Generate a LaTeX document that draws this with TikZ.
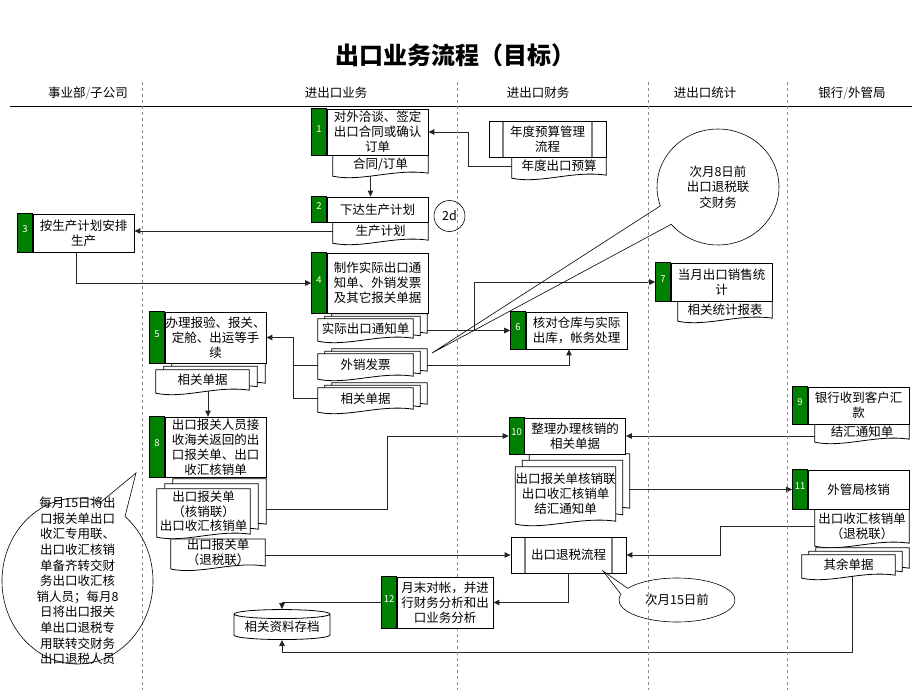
\documentclass[tikz,border=0pt]{standalone}
\usepackage{fontspec}
\setmainfont{Noto Sans CJK SC}
\usetikzlibrary{arrows.meta,calc,fit,shapes.geometric}

\definecolor{stepgreen}{RGB}{0,128,0}
\definecolor{lanegray}{RGB}{140,140,140}

\pgfdeclarelayer{wires}
\pgfdeclarelayer{papers}
\pgfsetlayers{wires,papers,main}

% document outline with wavy bottom, #2 = offset
\newcommand\docoutline[2]{%
  \draw[docline] ($(#1.north west)+(#2)$) -- ($(#1.north east)+(#2)$) -- ($(#1.south east)+(#2)$)
    .. controls ($(#1.south east)!.35!(#1.south west)+(#2)+(0,5pt)$)
    and ($(#1.south east)!.7!(#1.south west)+(#2)+(0,-9pt)$) .. ($(#1.south west)+(#2)+(0,-3pt)$) -- cycle;}
% three stacked documents
\newcommand\docstack[3]{%
  \docoutline{#1}{2*#2,2*#3}
  \docoutline{#1}{#2,#3}
  \docoutline{#1}{0pt,0pt}}

\begin{document}
\begin{tikzpicture}[x=1pt, y=-1pt, font=\fontsize{12.5}{15}\selectfont,
    stepbox/.style={draw, fill=white, line width=.8pt, align=center, inner sep=0pt, minimum width=101pt},
    stepnum/.style={draw, fill=stepgreen, line width=.8pt, text=white, inner sep=0pt, font=\fontsize{9.5}{10}\selectfont},
    docnode/.style={align=center, inner sep=0pt},
    docline/.style={draw, fill=white, line width=.8pt},
    subproc/.style={draw, fill=white, line width=.8pt, align=center, inner sep=0pt,
      path picture={\draw[gray, line width=1.3pt]
        ([xshift=14pt]path picture bounding box.north west) -- ([xshift=14pt]path picture bounding box.south west)
        ([xshift=-14pt]path picture bounding box.north east) -- ([xshift=-14pt]path picture bounding box.south east);}},
    store/.style={cylinder, shape border rotate=90, aspect=.12, draw, fill=white, line width=.8pt,
      minimum width=96pt, minimum height=30pt, inner sep=0pt},
    conn/.style={draw=black!85, line width=.9pt, -{Triangle[length=6pt,width=5.5pt]}},
    wire/.style={draw=black!85, line width=.9pt},
    bubble/.style={draw, line width=.6pt},
    lane/.style={draw=lanegray, dashed, line width=.6pt},
    colhead/.style={font=\fontsize{12.5}{15}\selectfont}]

  \useasboundingbox (0,0) rectangle (920,690);

  % title and lanes
  \node[font=\fontsize{24}{28}\selectfont\bfseries] (title) at (455,55) {出口业务流程（目标）};
  \node[colhead] (h1) at (88,93) {事业部\textcolor{lanegray}{/}子公司};
  \node[colhead] (h2) at (336,93) {进出口业务};
  \node[colhead] (h3) at (538,93) {进出口财务};
  \node[colhead] (h4) at (705,93) {进出口统计};
  \node[colhead] (h5) at (852,93) {银行\textcolor{lanegray}{/}外管局};
  \draw[line width=.8pt] (10,106) -- (912,106);
  \foreach \x in {142,457,648,787}
    \draw[lane] (\x,82) -- (\x,690);

  % process steps
  \node[stepbox, minimum height=46pt] (b1) at (377.5,132) {对外洽谈、签定\\出口合同或确认\\订单};
  \node[stepnum, fit={([xshift=-15pt]b1.north west) (b1.south west)}] (n1) {1};
  \node[stepbox, minimum height=25pt] (b2) at (377.5,209.5) {下达生产计划};
  \node[stepnum, fit={([xshift=-15pt]b2.north west) (b2.south west)}] (n2) {2};
  \node[stepbox, minimum height=38pt] (b3) at (83.5,233) {按生产计划安排\\生产};
  \node[stepnum, fit={([xshift=-15pt]b3.north west) (b3.south west)}] (n3) {3};
  \node[stepbox, minimum height=60pt] (b4) at (377.5,283) {制作实际出口通\\知单、外销发票\\及其它报关单据};
  \node[stepnum, fit={([xshift=-15pt]b4.north west) (b4.south west)}] (n4) {4};
  \node[stepbox, minimum height=51pt] (b5) at (215.5,337.5) {办理报验、报关、\\定舱、出运等手\\续};
  \node[stepnum, fit={([xshift=-15pt]b5.north west) (b5.south west)}] (n5) {5};
  \node[stepbox, minimum height=37pt] (b6) at (576.5,330.5) {核对仓库与实际\\出库，帐务处理};
  \node[stepnum, fit={([xshift=-15pt]b6.north west) (b6.south west)}] (n6) {6};
  \node[stepbox, minimum height=38pt] (b7) at (721.5,282) {当月出口销售统\\计};
  \node[stepnum, fit={([xshift=-15pt]b7.north west) (b7.south west)}] (n7) {7};
  \node[stepbox, minimum height=60pt] (b8) at (215.5,447) {出口报关人员接\\收海关返回的出\\口报关单、出口\\收汇核销单};
  \node[stepnum, fit={([xshift=-15pt]b8.north west) (b8.south west)}] (n8) {8};
  \node[stepbox, minimum height=37pt] (b9) at (858.5,405.5) {银行收到客户汇\\款};
  \node[stepnum, fit={([xshift=-15pt]b9.north west) (b9.south west)}] (n9) {9};
  \node[stepbox, minimum height=36pt] (b10) at (575,436) {整理办理核销的\\相关单据};
  \node[stepnum, fit={([xshift=-15pt]b10.north west) (b10.south west)}] (n10) {10};
  \node[stepbox, minimum height=39pt] (b11) at (858.5,489.5) {外管局核销};
  \node[stepnum, fit={([xshift=-15pt]b11.north west) (b11.south west)}] (n11) {11};
  \node[stepbox, minimum height=51pt, minimum width=96pt] (b12) at (445,602.5) {月末对帐，并进\\行财务分析和出\\口业务分析};
  \node[stepnum, fit={([xshift=-15pt]b12.north west) (b12.south west)}] (n12) {12};

  % sub processes, archive, marker
  \node[subproc, minimum width=117pt, minimum height=36pt] (pbud) at (547.5,139) {年度预算管理\\流程};
  \node[subproc, minimum width=115pt, minimum height=36pt] (p15) at (568.5,555) {出口退税流程};
  \node[store] (arch) at (282,627) {相关资料存档};
  \node[draw, circle, line width=.6pt, minimum size=31pt, inner sep=0pt] (c2d) at (449.5,216) {2d};

  % documents
  \node[docnode, minimum width=95pt, minimum height=18pt] (d1) at (380.5,164) {合同/订单};
  \node[docnode, minimum width=95pt, minimum height=18pt] (d2) at (380.5,231) {生产计划};
  \node[docnode, minimum width=94pt, minimum height=18pt] (dbud) at (559,166) {年度出口预算};
  \node[docnode, minimum width=94pt, minimum height=17pt] (d7) at (725,309.5) {相关统计报表};
  \node[docnode, minimum width=94pt, minimum height=15pt] (d9) at (862,431.5) {结汇通知单};
  \node[docnode, minimum width=94pt, minimum height=34pt] (d11) at (862,526) {出口收汇核销单\\（退税联）};
  \node[docnode, minimum width=94pt, minimum height=23pt] (d8r) at (218,552.5) {出口报关单\\（退税联）};
  \node[docnode, minimum width=95pt, minimum height=19pt] (s4a) at (365.5,328.5) {实际出口通知单};
  \node[docnode, minimum width=95pt, minimum height=22pt] (s4b) at (365.5,365) {外销发票};
  \node[docnode, minimum width=95pt, minimum height=21pt] (s4c) at (365.5,398.5) {相关单据};
  \node[docnode, minimum width=93pt, minimum height=20pt] (s5) at (202.5,380) {相关单据};
  \node[docnode, minimum width=93pt, minimum height=45pt, font=\fontsize{12.5}{14.5}\selectfont] (s8) at (203.5,511.5) {出口报关单\\（核销联）\\出口收汇核销单};
  \node[docnode, minimum width=95pt, minimum height=54pt] (s10) at (565.5,494) {出口报关单核销联\\出口收汇核销单\\结汇通知单};
  \node[docnode, minimum width=93pt, minimum height=20pt] (s11) at (848.5,565) {其余单据};

  \begin{pgfonlayer}{papers}
    \docoutline{d1}{0pt,0pt}
    \docoutline{d2}{0pt,0pt}
    \docoutline{dbud}{0pt,0pt}
    \docoutline{d7}{0pt,0pt}
    \docoutline{d9}{0pt,0pt}
    \docoutline{d11}{0pt,0pt}
    \docoutline{d8r}{0pt,0pt}
    \docstack{s4a}{7pt}{2.5pt}
    \docstack{s4b}{7pt}{2.5pt}
    \docstack{s4c}{7pt}{2.5pt}
    \docstack{s5}{8pt}{3.5pt}
    \docstack{s8}{8pt}{5pt}
    \docstack{s10}{7pt}{6.5pt}
    \docstack{s11}{7pt}{3.5pt}
  \end{pgfonlayer}

  % bends of the connectors
  \coordinate (j1) at (468,132);
  \coordinate (j5) at (293,337.5);
  \coordinate (j7) at (474,330.5);
  \coordinate (j10) at (387,436);
  \coordinate (j15) at (720,555);
  \coordinate (j0) at (282,652);

  \begin{pgfonlayer}{wires}
    \draw[conn] (dbud.west) -| (j1) -- (b1.east);
    \draw[conn] ([xshift=-10pt]d1.south) -- ([xshift=-10pt]d1.south |- b2.north);
    \draw[conn] (d2.west) -- (d2.west -| b3.east);
    \draw[conn] ([xshift=-7.5pt]b3.south) |- (n4.west);
    \draw[conn] (s4a.east |- n6.west) -- (n6.west);
    \draw[conn] (j7) |- (n7.west);
    \draw[conn] (s4b.east) -| ([xshift=-7.5pt]b6.south);
    \draw[conn] (s4b.west) -| (j5) -- (b5.east);
    \draw[wire] (s4c.west) -| (j5);
    \draw[conn] ([xshift=5.5pt]s5.south) -- ([xshift=-7.5pt]b8.north);
    \draw[conn] ([yshift=2pt]s8.east) -| (j10) -- (n10.west);
    \draw[conn] (d8r.east |- p15.west) -- (p15.west);
    \draw[conn] (d9.west |- b10.east) -- (b10.east);
    \draw[conn] (s10.east |- n11.west) -- (n11.west);
    \draw[conn] (d11.west) -| (j15) -- (p15.east);
    \draw[conn] (p15.south) |- (b12.east);
    \draw[conn] (n12.west) -| (arch.north);
    \draw[conn] ([xshift=3.5pt]s11.south) |- (j0) -- (arch.south);
  \end{pgfonlayer}

  % callouts
  \node[align=center, font=\fontsize{12.5}{15.5}\selectfont] (t8) at (718,187) {次月8日前\\出口退税联\\交财务};
  \coordinate (tip8) at (432,353);
  \draw[bubble] (tip8) -- ($(t8.center)+(220:61pt and 58pt)$)
    arc[start angle=220, end angle=559, x radius=61pt, y radius=58pt] -- cycle;

  \node (t15) at (677,600) {次月15日前};
  \coordinate (tip15) at (603,571);
  \draw[bubble] (tip15) -- ($(t15.center)+(165:58pt and 22pt)$)
    arc[start angle=165, end angle=508, x radius=58pt, y radius=22pt] -- cycle;

  \node[align=center, font=\fontsize{12.5}{15.6}\selectfont] (tnote) at (77.5,581)
    {每月15日将出\\口报关单出口\\收汇专用联、\\出口收汇核销\\单备齐转交财\\务出口收汇核\\销人员；每月8\\日将出口报关\\单出口退税专\\用联转交财务\\出口退税人员};
  \coordinate (tipnote) at (136,473);
  \draw[bubble] (tipnote) -- ($(tnote.center)+(51:75.5pt and 83pt)$)
    arc[start angle=51, end angle=-288, x radius=75.5pt, y radius=83pt] -- cycle;

\end{tikzpicture}
\end{document}
